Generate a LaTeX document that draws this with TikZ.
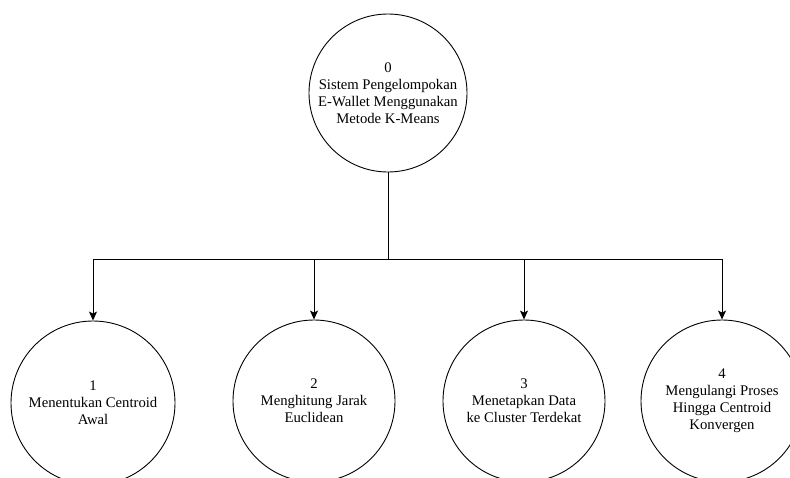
\documentclass[tikz,border=0pt]{standalone}
\usepackage{fontspec}
\setmainfont{Liberation Serif}
\usetikzlibrary{arrows.meta}
\tikzset{>={Stealth[length=9pt,width=8pt,inset=2pt]}}
\tikzset{proses/.style={circle, draw, line width=0.9pt, inner sep=0pt, align=center,
    font=\fontsize{14.7}{17}\selectfont}}

\begin{document}
\begin{tikzpicture}[x=1pt, y=-1pt, line width=0.9pt]
    \useasboundingbox (0,0) rectangle (790,477);
    \begin{scope}
    \clip (0,0) rectangle (790,477);
    \node[proses, minimum size=158pt] (n0) at (388,93) {0\\Sistem Pengelompokan\\E-Wallet Menggunakan\\Metode K-Means};
    \node[proses, minimum size=164pt] (n1) at (93,403) {1\\Menentukan Centroid\\Awal};
    \node[proses, minimum size=162pt] (n2) at (314,401) {2\\Menghitung Jarak\\Euclidean};
    \node[proses, minimum size=162pt] (n3) at (524,401) {3\\Menetapkan Data\\ke Cluster Terdekat};
    \node[proses, minimum size=162pt] (n4) at (722,401) {4\\Mengulangi Proses\\Hingga Centroid\\Konvergen};
    \coordinate (cabang) at (388,259);
    \draw (n0) -- (cabang);
    \draw[->] (cabang) -| (n1);
    \draw[->] (cabang) -| (n2);
    \draw[->] (cabang) -| (n3);
    \draw[->] (cabang) -| (n4);
    \end{scope}
\end{tikzpicture}
\end{document}
